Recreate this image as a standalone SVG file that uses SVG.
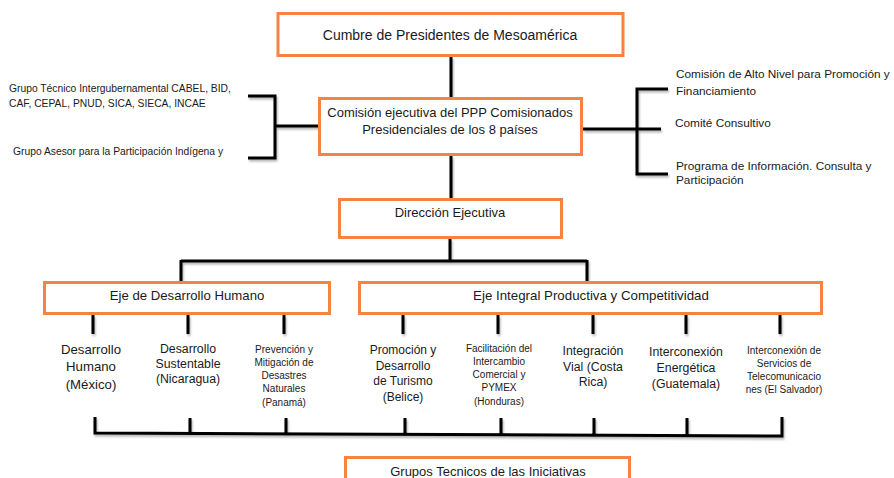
<svg xmlns="http://www.w3.org/2000/svg" width="894" height="478" viewBox="0 0 894 478">
<defs>
<filter id="sh" x="-10%" y="-10%" width="120%" height="130%">
<feDropShadow dx="1" dy="2" stdDeviation="1" flood-color="#000" flood-opacity="0.3"/>
</filter>
<style>
.box{fill:#fff;stroke:#F58442;stroke-width:3}
.ln{fill:none;stroke:#000;stroke-width:3;stroke-linecap:butt;stroke-linejoin:miter}
text{font-family:"Liberation Sans",Arial,sans-serif;fill:#1a1a1a}
.c{text-anchor:middle}
</style>
</defs>
<rect width="894" height="478" fill="#fff"/>
<g id="connectors" filter="url(#sh)">
<path class="ln" d="M451 57V98M451 156V199M450 239V261M181 261H587M181 260V283M587 260V283"/>
<path class="ln" d="M248 96H275V158H248M275 126H319"/>
<path class="ln" d="M583 129H637M668 89H637V174H668M637 129H661"/>
<path class="ln" d="M93 315V334M188 315V334M284 315V334M403 315V334M498 315V334M593 315V334M686 315V334M780 315V334"/>
<path class="ln" d="M95 417V433L782 436V417M190 418V434M286 418V434M405 418V434M501 418V435M594 418V435M687 418V435"/>
</g>
<g id="cumbre"><rect class="box" x="278" y="13.5" width="345" height="42"/><text class="c" x="450" y="40" font-size="14">Cumbre de Presidentes de Mesoamérica</text></g>
<g id="comision"><rect class="box" x="319.5" y="98.5" width="262" height="56"/><text class="c" x="450" y="116.5" font-size="13">Comisión ejecutiva del PPP Comisionados</text><text class="c" x="450" y="133.5" font-size="13">Presidenciales de los 8 países</text></g>
<g id="direccion"><rect class="box" x="339.5" y="199.5" width="222" height="38"/><text class="c" x="450" y="216.5" font-size="13">Dirección Ejecutiva</text></g>
<g id="grupo-tecnico"><text x="9" y="91.5" font-size="10.3">Grupo Técnico Intergubernamental CABEL, BID,</text><text x="9" y="106.5" font-size="10.3">CAF, CEPAL, PNUD, SICA, SIECA, INCAE</text></g>
<g id="grupo-asesor"><text x="13" y="154.5" font-size="10.3">Grupo Asesor para la Participación Indígena y</text></g>
<g id="comision-alto"><text x="676" y="78" font-size="11.8">Comisión de Alto Nivel para Promoción y</text><text x="676" y="95" font-size="11.8">Financiamiento</text></g>
<g id="comite"><text x="675" y="127" font-size="11.8">Comité Consultivo</text></g>
<g id="programa"><text x="676" y="170" font-size="11.8">Programa de Información. Consulta y</text><text x="676" y="184" font-size="11.8">Participación</text></g>
<g id="eje-humano"><rect class="box" x="44.5" y="282.5" width="285" height="31"/><text class="c" x="187" y="299.5" font-size="13.2">Eje de Desarrollo Humano</text></g>
<g id="eje-integral"><rect class="box" x="359.5" y="282.5" width="462" height="31"/><text class="c" x="591" y="299.5" font-size="13.3">Eje Integral Productiva y Competitividad</text></g>
<g id="des-humano" font-size="13.2"><text class="c" x="91" y="353.5">Desarrollo</text><text class="c" x="91" y="371">Humano</text><text class="c" x="91" y="388.5">(México)</text></g>
<g id="des-sustentable" font-size="12.3"><text class="c" x="188" y="353">Desarrollo</text><text class="c" x="188" y="368">Sustentable</text><text class="c" x="188" y="383">(Nicaragua)</text></g>
<g id="prevencion" font-size="10"><text class="c" x="284" y="352.5">Prevención y</text><text class="c" x="284" y="365.5">Mitigación de</text><text class="c" x="284" y="378.5">Desastres</text><text class="c" x="284" y="391.5">Naturales</text><text class="c" x="284" y="405.5">(Panamá)</text></g>
<g id="turismo" font-size="12"><text class="c" x="403" y="354">Promoción y</text><text class="c" x="403" y="370">Desarrollo</text><text class="c" x="403" y="385">de Turismo</text><text class="c" x="403" y="401">(Belice)</text></g>
<g id="facilitacion" font-size="10"><text class="c" x="499" y="351.5">Facilitación del</text><text class="c" x="499" y="364.5">Intercambio</text><text class="c" x="499" y="377.5">Comercial y</text><text class="c" x="499" y="390.5">PYMEX</text><text class="c" x="499" y="404.5">(Honduras)</text></g>
<g id="vial" font-size="12.3"><text class="c" x="593" y="354.5">Integración</text><text class="c" x="593" y="370.5">Vial (Costa</text><text class="c" x="593" y="385.5">Rica)</text></g>
<g id="energetica" font-size="12.3"><text class="c" x="686" y="355.5">Interconexión</text><text class="c" x="686" y="371.5">Energética</text><text class="c" x="686" y="387.5">(Guatemala)</text></g>
<g id="telecom" font-size="10"><text class="c" x="784" y="353.5">Interconexión de</text><text class="c" x="784" y="366.5">Servicios de</text><text class="c" x="784" y="379.5">Telecomunicacio</text><text class="c" x="784" y="392.5">nes (El Salvador)</text></g>
<g id="grupos-tecnicos"><rect class="box" x="345.5" y="457.5" width="284" height="40"/><text class="c" x="488" y="475.5" font-size="13">Grupos Tecnicos de las Iniciativas</text></g>
</svg>
